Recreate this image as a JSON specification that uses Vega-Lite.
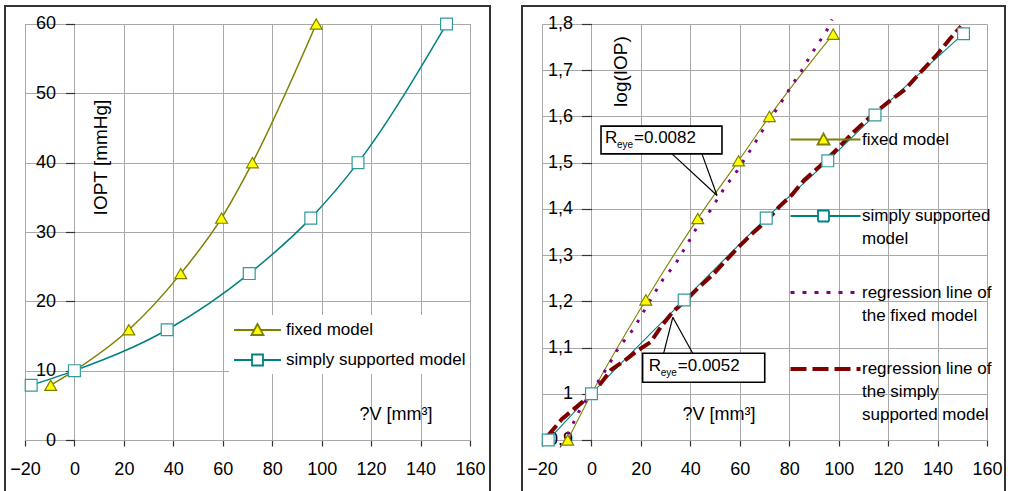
{
  "$schema": "https://vega.github.io/schema/vega-lite/v6.json",
  "padding": {"left": 4, "top": 5, "right": 0, "bottom": 0},
  "background": "white",
  "bounds": "flush",
  "spacing": 32,
  "resolve": {"scale": {"x": "independent", "y": "independent", "color": "independent"}, "legend": {"color": "independent"}},
  "config": {
    "font": "Liberation Sans",
    "view": {"stroke": "#333333", "strokeWidth": 2},
    "axis": {"grid": false, "labelColor": "#000000", "labelFont": "Liberation Sans", "labelFontSize": 18, "titleFont": "Liberation Sans", "titleFontSize": 18, "titleFontWeight": "normal", "titleColor": "#000000", "labelFlush": false, "labelOverlap": false},
    "legend": {"labelFont": "Liberation Sans", "labelColor": "#000000"}
  },
  "datasets": {
    "measured": [
      {"model": "fixed model", "dV": -9.6, "IOP": 7.9, "logIOP": 0.9},
      {"model": "fixed model", "dV": 0, "IOP": 10, "logIOP": 1.0},
      {"model": "fixed model", "dV": 22, "IOP": 15.9, "logIOP": 1.203},
      {"model": "fixed model", "dV": 43, "IOP": 24, "logIOP": 1.379},
      {"model": "fixed model", "dV": 59.5, "IOP": 32, "logIOP": 1.504},
      {"model": "fixed model", "dV": 72, "IOP": 40, "logIOP": 1.6},
      {"model": "fixed model", "dV": 97.8, "IOP": 60, "logIOP": 1.778},
      {"model": "simply supported model", "dV": -17.5, "IOP": 7.9, "logIOP": 0.9},
      {"model": "simply supported model", "dV": 0, "IOP": 10, "logIOP": 1.0},
      {"model": "simply supported model", "dV": 37.5, "IOP": 15.9, "logIOP": 1.203},
      {"model": "simply supported model", "dV": 70.7, "IOP": 24, "logIOP": 1.38},
      {"model": "simply supported model", "dV": 95.6, "IOP": 32, "logIOP": 1.504},
      {"model": "simply supported model", "dV": 114.7, "IOP": 40, "logIOP": 1.603},
      {"model": "simply supported model", "dV": 150.5, "IOP": 60, "logIOP": 1.779}
    ],
    "regression": [
      {"model": "regression line of the fixed model", "dV": -9.6, "logIOP": 0.912},
      {"model": "regression line of the fixed model", "dV": -5, "logIOP": 0.962},
      {"model": "regression line of the fixed model", "dV": 0, "logIOP": 1.005},
      {"model": "regression line of the fixed model", "dV": 2.5, "logIOP": 1.025},
      {"model": "regression line of the fixed model", "dV": 6.5, "logIOP": 1.058},
      {"model": "regression line of the fixed model", "dV": 11, "logIOP": 1.1},
      {"model": "regression line of the fixed model", "dV": 17, "logIOP": 1.14},
      {"model": "regression line of the fixed model", "dV": 24.5, "logIOP": 1.209},
      {"model": "regression line of the fixed model", "dV": 29, "logIOP": 1.248},
      {"model": "regression line of the fixed model", "dV": 34, "logIOP": 1.281},
      {"model": "regression line of the fixed model", "dV": 38, "logIOP": 1.317},
      {"model": "regression line of the fixed model", "dV": 41.5, "logIOP": 1.349},
      {"model": "regression line of the fixed model", "dV": 44, "logIOP": 1.374},
      {"model": "regression line of the fixed model", "dV": 48, "logIOP": 1.396},
      {"model": "regression line of the fixed model", "dV": 54, "logIOP": 1.447},
      {"model": "regression line of the fixed model", "dV": 59, "logIOP": 1.483},
      {"model": "regression line of the fixed model", "dV": 65.5, "logIOP": 1.537},
      {"model": "regression line of the fixed model", "dV": 70.5, "logIOP": 1.581},
      {"model": "regression line of the fixed model", "dV": 75, "logIOP": 1.616},
      {"model": "regression line of the fixed model", "dV": 78, "logIOP": 1.641},
      {"model": "regression line of the fixed model", "dV": 81, "logIOP": 1.667},
      {"model": "regression line of the fixed model", "dV": 85, "logIOP": 1.699},
      {"model": "regression line of the fixed model", "dV": 89, "logIOP": 1.735},
      {"model": "regression line of the fixed model", "dV": 92.5, "logIOP": 1.764},
      {"model": "regression line of the fixed model", "dV": 95.5, "logIOP": 1.789},
      {"model": "regression line of the fixed model", "dV": 97.3, "logIOP": 1.81},
      {"model": "regression line of the simply supported model", "dV": -17.5, "logIOP": 0.91},
      {"model": "regression line of the simply supported model", "dV": -12, "logIOP": 0.945},
      {"model": "regression line of the simply supported model", "dV": -8, "logIOP": 0.963},
      {"model": "regression line of the simply supported model", "dV": -3, "logIOP": 0.985},
      {"model": "regression line of the simply supported model", "dV": 0, "logIOP": 1.0},
      {"model": "regression line of the simply supported model", "dV": 3, "logIOP": 1.017},
      {"model": "regression line of the simply supported model", "dV": 8, "logIOP": 1.052},
      {"model": "regression line of the simply supported model", "dV": 13.5, "logIOP": 1.072},
      {"model": "regression line of the simply supported model", "dV": 18.5, "logIOP": 1.093},
      {"model": "regression line of the simply supported model", "dV": 24, "logIOP": 1.112},
      {"model": "regression line of the simply supported model", "dV": 28, "logIOP": 1.144},
      {"model": "regression line of the simply supported model", "dV": 33, "logIOP": 1.178},
      {"model": "regression line of the simply supported model", "dV": 38, "logIOP": 1.201},
      {"model": "regression line of the simply supported model", "dV": 43, "logIOP": 1.228},
      {"model": "regression line of the simply supported model", "dV": 49, "logIOP": 1.257},
      {"model": "regression line of the simply supported model", "dV": 55, "logIOP": 1.292},
      {"model": "regression line of the simply supported model", "dV": 60, "logIOP": 1.32},
      {"model": "regression line of the simply supported model", "dV": 65.5, "logIOP": 1.349},
      {"model": "regression line of the simply supported model", "dV": 71, "logIOP": 1.375},
      {"model": "regression line of the simply supported model", "dV": 76, "logIOP": 1.405},
      {"model": "regression line of the simply supported model", "dV": 81, "logIOP": 1.43},
      {"model": "regression line of the simply supported model", "dV": 86, "logIOP": 1.462},
      {"model": "regression line of the simply supported model", "dV": 92.5, "logIOP": 1.493},
      {"model": "regression line of the simply supported model", "dV": 98, "logIOP": 1.522},
      {"model": "regression line of the simply supported model", "dV": 106, "logIOP": 1.566},
      {"model": "regression line of the simply supported model", "dV": 114, "logIOP": 1.605},
      {"model": "regression line of the simply supported model", "dV": 121, "logIOP": 1.635},
      {"model": "regression line of the simply supported model", "dV": 127, "logIOP": 1.659},
      {"model": "regression line of the simply supported model", "dV": 133, "logIOP": 1.695},
      {"model": "regression line of the simply supported model", "dV": 140, "logIOP": 1.735},
      {"model": "regression line of the simply supported model", "dV": 145, "logIOP": 1.768},
      {"model": "regression line of the simply supported model", "dV": 149.5, "logIOP": 1.795}
    ],
    "callouts": [
      {"value": "=0.0082", "bx1": 3.87, "bx2": 52.8, "by1": 1.579, "by2": 1.519, "tx": 5.5, "ty": 1.543},
      {"value": "=0.0052", "bx1": 20.7, "bx2": 70.1, "by1": 1.0876, "by2": 1.0248, "tx": 23.2, "ty": 1.049}
    ],
    "pointers": [
      {"x1": 32.6, "y1": 1.519, "x2": 50.8, "y2": 1.429},
      {"x1": 44.7, "y1": 1.519, "x2": 50.8, "y2": 1.429},
      {"x1": 29.2, "y1": 1.0876, "x2": 32.9, "y2": 1.1655},
      {"x1": 40.96, "y1": 1.0876, "x2": 32.9, "y2": 1.1655}
    ]
  },
  "hconcat": [
    {
      "width": 485,
      "height": 488,
      "resolve": {"axis": {"x": "independent", "y": "independent"}},
      "layer": [
        {
          "mark": {"type": "rect", "filled": false, "color": "#808080", "strokeWidth": 2},
          "encoding": {
            "x": {"datum": -20, "type": "quantitative", "scale": {"domain": [-28.09, 168.09], "nice": false, "zero": false},
              "axis": {"orient": "bottom", "offset": -54, "values": [-20, 0, 20, 40, 60, 80, 100, 120, 140, 160], "tickSize": -416, "tickColor": "#a8a8a8", "tickWidth": 1, "labels": false, "domain": false, "grid": false, "title": null}},
            "x2": {"datum": 160},
            "y": {"datum": 0, "type": "quantitative", "scale": {"domain": [-7.788, 62.596], "nice": false, "zero": false},
              "axis": {"orient": "left", "offset": -20, "values": [0, 10, 20, 30, 40, 50, 60], "tickSize": -445, "tickColor": "#a8a8a8", "tickWidth": 1, "labels": false, "domain": false, "grid": false, "title": null}},
            "y2": {"datum": 60}
          }
        },
        {
          "layer": [
            {
              "data": {"name": "measured"},
              "encoding": {
                "x": {"field": "dV", "type": "quantitative", "scale": {"domain": [-28.09, 168.09], "nice": false, "zero": false},
                  "axis": {"orient": "bottom", "offset": -54, "title": "?V [mm³]", "titleX": 354, "titleY": -21, "titleAlign": "left", "titleBaseline": "alphabetic", "titleAnchor": "start", "values": [-20, 0, 20, 40, 60, 80, 100, 120, 140, 160], "tickSize": 6, "tickColor": "#333333", "tickWidth": 1.2, "labelPadding": 14, "domain": false, "grid": false}},
                "y": {"field": "IOP", "type": "quantitative", "scale": {"domain": [-7.788, 62.596], "nice": false, "zero": false},
                  "axis": {"orient": "left", "offset": -69.44, "title": "IOPT [mmHg]", "titleFontSize": 19, "titleX": 25.6, "titleY": 151, "titleAngle": 270, "titleAlign": "center", "titleBaseline": "middle", "values": [0, 10, 20, 30, 40, 50, 60], "tickSize": 9, "tickColor": "#333333", "tickWidth": 1.2, "labelPadding": 10, "domain": false, "grid": false}}
              },
              "layer": [
                {
                  "mark": {"type": "line", "interpolate": "monotone", "strokeWidth": 1.5},
                  "encoding": {
                    "color": {"field": "model", "type": "nominal",
                      "scale": {"domain": ["fixed model", "simply supported model"], "range": ["#808000", "#008080"]},
                      "legend": {
                        "title": null, "orient": "none", "legendX": 224, "legendY": 309, "fillColor": "#ffffff", "padding": 4, "rowPadding": 10,
                        "symbolSize": 400, "symbolStrokeWidth": 1.8, "labelOffset": 31, "labelFontSize": 17, "labelLimit": 400,
                        "symbolType": "M-1,0H3.7",
                        "encode": {"symbols": {"update": {
                          "shape": {"signal": "datum.value === 'fixed model' ? 'M-1,0H1.02M1.68,0H3.7M0.75,0.5L1.35,-0.6L1.95,0.5Z' : 'M-1,0H0.8M1.9,0H3.7M0.8,-0.55H1.9V0.55H0.8Z'"},
                          "fill": {"signal": "datum.value === 'fixed model' ? '#ffff00' : '#ffffff'"},
                          "stroke": {"signal": "datum.value === 'fixed model' ? '#808000' : '#008080'"},
                          "strokeWidth": {"value": 1.8},
                          "opacity": {"value": 1}
                        }}}
                      }}
                  }
                },
                {
                  "mark": {"type": "point", "filled": true, "size": 140, "strokeWidth": 1.2, "opacity": 1},
                  "encoding": {
                    "shape": {"condition": {"test": "datum.model === 'fixed model'", "value": "triangle-up"}, "value": "square"},
                    "fill": {"condition": {"test": "datum.model === 'fixed model'", "value": "#ffff00"}, "value": "#ffffff"},
                    "stroke": {"condition": {"test": "datum.model === 'fixed model'", "value": "#808000"}, "value": "#339999"}
                  }
                }
              ]
            },
            {
              "mark": {"type": "rect", "fill": "#ffffff"},
              "encoding": {
                "x": {"datum": 0.4, "type": "quantitative", "scale": {"domain": [-28.09, 168.09], "nice": false, "zero": false}},
                "x2": {"datum": 21},
                "y": {"datum": 30, "type": "quantitative", "scale": {"domain": [-7.788, 62.596], "nice": false, "zero": false}},
                "y2": {"datum": 50.6}
              }
            },
            {
              "mark": {"type": "rect", "fill": "#ffffff"},
              "encoding": {
                "x": {"datum": 110.2, "type": "quantitative", "scale": {"domain": [-28.09, 168.09], "nice": false, "zero": false}},
                "x2": {"datum": 159.4},
                "y": {"datum": 0.3, "type": "quantitative", "scale": {"domain": [-7.788, 62.596], "nice": false, "zero": false}},
                "y2": {"datum": 6.9}
              }
            },
            {
              "mark": {"type": "rule", "color": "#333333", "strokeWidth": 1.5},
              "encoding": {
                "x": {"datum": -20, "type": "quantitative", "scale": {"domain": [-28.09, 168.09], "nice": false, "zero": false}},
                "x2": {"datum": 160},
                "y": {"datum": 0, "type": "quantitative", "scale": {"domain": [-7.788, 62.596], "nice": false, "zero": false}}
              }
            },
            {
              "mark": {"type": "rule", "color": "#333333", "strokeWidth": 1.5},
              "encoding": {
                "x": {"datum": 0, "type": "quantitative", "scale": {"domain": [-28.09, 168.09], "nice": false, "zero": false}},
                "y": {"datum": 0, "type": "quantitative", "scale": {"domain": [-7.788, 62.596], "nice": false, "zero": false}},
                "y2": {"datum": 60}
              }
            },
            {
              "mark": {"type": "text", "text": "a", "fontSize": 23, "fontWeight": "bold", "align": "center", "baseline": "middle", "color": "#000000"},
              "encoding": {
                "x": {"datum": 69.1, "type": "quantitative", "scale": {"domain": [-28.09, 168.09], "nice": false, "zero": false}},
                "y": {"datum": 55.4, "type": "quantitative", "scale": {"domain": [-7.788, 62.596], "nice": false, "zero": false}}
              }
            }
          ]
        }
      ]
    },
    {
      "width": 483,
      "height": 488,
      "resolve": {"axis": {"x": "independent", "y": "independent"}},
      "layer": [
        {
          "mark": {"type": "rect", "filled": false, "color": "#808080", "strokeWidth": 2},
          "encoding": {
            "x": {"datum": -20, "type": "quantitative", "scale": {"domain": [-28.09, 167.28], "nice": false, "zero": false},
              "axis": {"orient": "bottom", "offset": -54, "values": [-20, 0, 20, 40, 60, 80, 100, 120, 140, 160], "tickSize": -416, "tickColor": "#a8a8a8", "tickWidth": 1, "labels": false, "domain": false, "grid": false, "title": null}},
            "x2": {"datum": 160},
            "y": {"datum": 0.9, "type": "quantitative", "scale": {"domain": [0.78317, 1.83894], "nice": false, "zero": false},
              "axis": {"orient": "left", "offset": -20, "values": [0.9, 1.0, 1.1, 1.2, 1.3, 1.4, 1.5, 1.6, 1.7, 1.8], "tickSize": -445, "tickColor": "#a8a8a8", "tickWidth": 1, "labels": false, "domain": false, "grid": false, "title": null}},
            "y2": {"datum": 1.8}
          }
        },
        {
          "layer": [
            {
              "encoding": {
                "x": {"field": "dV", "type": "quantitative", "scale": {"domain": [-28.09, 167.28], "nice": false, "zero": false},
                  "axis": {"orient": "bottom", "offset": -54, "title": "?V [mm³]", "titleX": 160, "titleY": -21, "titleAlign": "left", "titleBaseline": "alphabetic", "titleAnchor": "start", "values": [-20, 0, 20, 40, 60, 80, 100, 120, 140, 160], "tickSize": 6, "tickColor": "#333333", "tickWidth": 1.2, "labelPadding": 14, "domain": false, "grid": false}},
                "y": {"field": "logIOP", "type": "quantitative", "scale": {"domain": [0.78317, 1.83894], "nice": false, "zero": false},
                  "axis": {"orient": "left", "offset": -69.44, "title": "log(IOP)", "titleFontSize": 19, "titleX": 28.6, "titleY": 65, "titleAngle": 270, "titleAlign": "center", "titleBaseline": "middle", "values": [0.9, 1.0, 1.1, 1.2, 1.3, 1.4, 1.5, 1.6, 1.7, 1.8], "labelExpr": "datum.value == 1 ? '1' : replace(format(datum.value, '.1f'), '.', ',')", "tickSize": 10, "tickColor": "#333333", "tickWidth": 1.2, "labelPadding": 9, "domain": false, "grid": false}},
                "color": {"field": "model", "type": "nominal",
                  "scale": {"domain": ["fixed model", "simply supported model", "regression line of the fixed model", "regression line of the simply supported model"], "range": ["#808000", "#008080", "#800080", "#800000"]},
                  "legend": {
                    "title": null, "orient": "none", "legendX": 270, "legendY": 125, "padding": 0, "rowPadding": 12.5, "gridAlign": "all",
                    "symbolSize": 400, "symbolStrokeWidth": 2, "labelOffset": 53, "labelFontSize": 17, "labelLimit": 400, "labelBaseline": "top",
                    "symbolType": "M-1,0H6",
                    "labelExpr": "datum.value == 'simply supported model' ? ['simply supported', 'model'] : datum.value == 'regression line of the fixed model' ? ['regression line of', 'the fixed model'] : datum.value == 'regression line of the simply supported model' ? ['regression line of', 'the simply', 'supported model'] : datum.label",
                    "encode": {
                      "labels": {"update": {"dy": {"value": -8}, "lineHeight": {"value": 23}}},
                      "symbols": {"update": {
                        "shape": {"signal": "datum.value === 'fixed model' ? 'M-1,0H1.97M2.63,0H6M1.7,0.5L2.3,-0.6L2.9,0.5Z' : datum.value === 'simply supported model' ? 'M-1,0H1.75M2.85,0H6M1.75,-0.55H2.85V0.55H1.75Z' : 'M-1,0H6'"},
                        "fill": {"signal": "datum.value === 'fixed model' ? '#ffff00' : datum.value === 'simply supported model' ? '#ffffff' : 'transparent'"},
                        "stroke": {"signal": "datum.value === 'fixed model' ? '#808000' : datum.value === 'simply supported model' ? '#008080' : datum.value === 'regression line of the fixed model' ? '#800080' : '#800000'"},
                        "strokeWidth": {"signal": "datum.value === 'regression line of the fixed model' ? 3 : datum.value === 'regression line of the simply supported model' ? 4 : 1.8"},
                        "strokeDash": {"signal": "datum.value === 'regression line of the fixed model' ? [4, 8] : datum.value === 'regression line of the simply supported model' ? [16, 6] : [1, 0]"},
                        "opacity": {"value": 1}
                      }}
                    }
                  }}
              },
              "layer": [
                {
                  "data": {"name": "measured"},
                  "mark": {"type": "line", "interpolate": "monotone", "strokeWidth": 1.1}
                },
                {
                  "data": {"name": "regression"},
                  "mark": {"type": "line"},
                  "encoding": {
                    "strokeWidth": {"condition": {"test": "datum.model === 'regression line of the simply supported model'", "value": 4}, "value": 3},
                    "strokeDash": {"condition": {"test": "datum.model === 'regression line of the simply supported model'", "value": [13, 5]}, "value": [3, 9]}
                  }
                },
                {
                  "data": {"name": "measured"},
                  "mark": {"type": "point", "filled": true, "size": 140, "strokeWidth": 1.2, "opacity": 1},
                  "encoding": {
                    "shape": {"condition": {"test": "datum.model === 'fixed model'", "value": "triangle-up"}, "value": "square"},
                    "fill": {"condition": {"test": "datum.model === 'fixed model'", "value": "#ffff00"}, "value": "#ffffff"},
                    "stroke": {"condition": {"test": "datum.model === 'fixed model'", "value": "#808000"}, "value": "#339999"}
                  }
                }
              ]
            },
            {
              "mark": {"type": "rect", "fill": "#ffffff"},
              "encoding": {
                "x": {"datum": 0.6, "type": "quantitative", "scale": {"domain": [-28.09, 167.28], "nice": false, "zero": false}},
                "x2": {"datum": 19.5},
                "y": {"datum": 1.59, "type": "quantitative", "scale": {"domain": [0.78317, 1.83894], "nice": false, "zero": false}},
                "y2": {"datum": 1.785}
              }
            },
            {
              "mark": {"type": "rect", "fill": "#ffffff"},
              "encoding": {
                "x": {"datum": 33.8, "type": "quantitative", "scale": {"domain": [-28.09, 167.28], "nice": false, "zero": false}},
                "x2": {"datum": 76.3},
                "y": {"datum": 0.9035, "type": "quantitative", "scale": {"domain": [0.78317, 1.83894], "nice": false, "zero": false}},
                "y2": {"datum": 1.003}
              }
            },
            {
              "mark": {"type": "rule", "color": "#333333", "strokeWidth": 1.5},
              "encoding": {
                "x": {"datum": -20, "type": "quantitative", "scale": {"domain": [-28.09, 167.28], "nice": false, "zero": false}},
                "x2": {"datum": 160},
                "y": {"datum": 0.9, "type": "quantitative", "scale": {"domain": [0.78317, 1.83894], "nice": false, "zero": false}}
              }
            },
            {
              "mark": {"type": "rule", "color": "#333333", "strokeWidth": 1.5},
              "encoding": {
                "x": {"datum": 0, "type": "quantitative", "scale": {"domain": [-28.09, 167.28], "nice": false, "zero": false}},
                "y": {"datum": 0.9, "type": "quantitative", "scale": {"domain": [0.78317, 1.83894], "nice": false, "zero": false}},
                "y2": {"datum": 1.8}
              }
            },
            {
              "data": {"name": "pointers"},
              "mark": {"type": "rule", "color": "#000000", "strokeWidth": 1.2},
              "encoding": {
                "x": {"field": "x1", "type": "quantitative", "scale": {"domain": [-28.09, 167.28], "nice": false, "zero": false}},
                "y": {"field": "y1", "type": "quantitative", "scale": {"domain": [0.78317, 1.83894], "nice": false, "zero": false}},
                "x2": {"field": "x2"},
                "y2": {"field": "y2"}
              }
            },
            {
              "data": {"name": "callouts"},
              "encoding": {
                "x": {"field": "tx", "type": "quantitative", "scale": {"domain": [-28.09, 167.28], "nice": false, "zero": false}},
                "y": {"field": "ty", "type": "quantitative", "scale": {"domain": [0.78317, 1.83894], "nice": false, "zero": false}}
              },
              "layer": [
                {
                  "mark": {"type": "rect", "fill": "#ffffff", "stroke": "#000000", "strokeWidth": 1.6},
                  "encoding": {
                    "x": {"field": "bx1", "type": "quantitative", "scale": {"domain": [-28.09, 167.28], "nice": false, "zero": false}},
                    "x2": {"field": "bx2"},
                    "y": {"field": "by1", "type": "quantitative", "scale": {"domain": [0.78317, 1.83894], "nice": false, "zero": false}},
                    "y2": {"field": "by2"}
                  }
                },
                {
                  "mark": {"type": "text", "text": "R", "fontSize": 17, "align": "left", "baseline": "alphabetic", "color": "#000000"}
                },
                {
                  "mark": {"type": "text", "text": "eye", "fontSize": 10, "align": "left", "baseline": "alphabetic", "dx": 12, "dy": 5, "color": "#000000"}
                },
                {
                  "mark": {"type": "text", "fontSize": 17, "align": "left", "baseline": "alphabetic", "dx": 29, "color": "#000000"},
                  "encoding": {"text": {"field": "value"}}
                }
              ]
            },
            {
              "mark": {"type": "text", "text": "b", "fontSize": 23, "fontWeight": "bold", "align": "center", "baseline": "middle", "color": "#000000"},
              "encoding": {
                "x": {"datum": 69.9, "type": "quantitative", "scale": {"domain": [-28.09, 167.28], "nice": false, "zero": false}},
                "y": {"datum": 1.747, "type": "quantitative", "scale": {"domain": [0.78317, 1.83894], "nice": false, "zero": false}}
              }
            }
          ]
        }
      ]
    }
  ]
}
